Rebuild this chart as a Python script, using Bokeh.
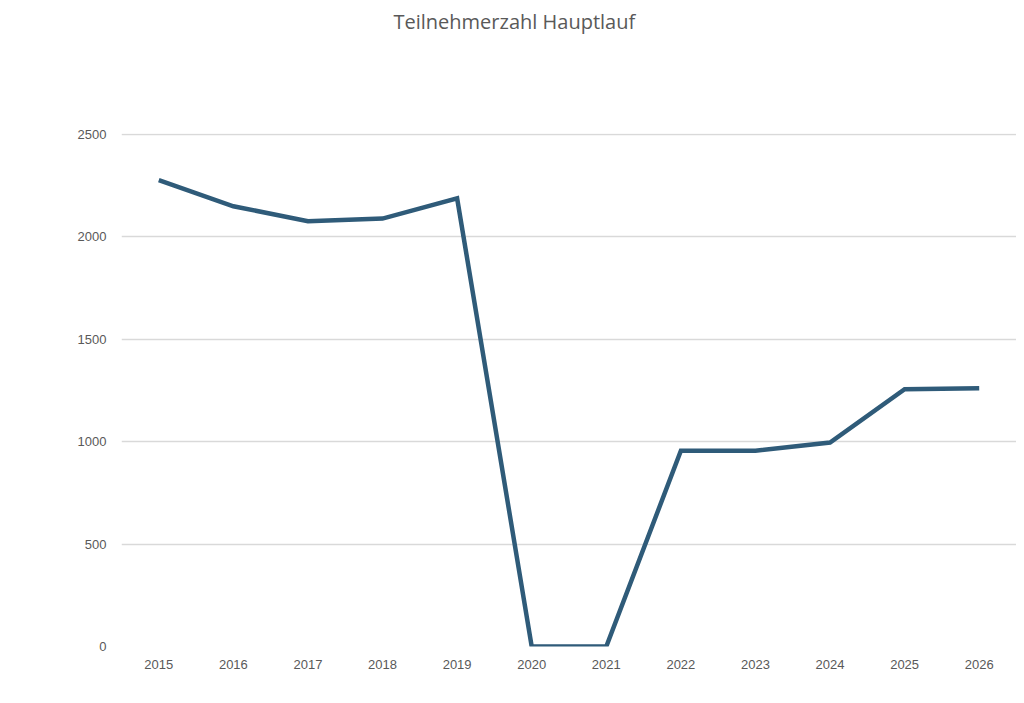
from bokeh.plotting import figure
from bokeh.models import FactorRange, Range1d, FixedTicker, Title
from bokeh.embed import file_html
from bokeh.resources import INLINE

years = ["2015", "2016", "2017", "2018", "2019", "2020",
         "2021", "2022", "2023", "2024", "2025", "2026"]
teilnehmer = [2275, 2148, 2075, 2088, 2187, 0, 0, 955, 955, 995, 1255, 1260]
y_ticks = [0, 500, 1000, 1500, 2000, 2500]
title_text = "Teilnehmerzahl Hauptlauf"

p = figure(width=1016, height=695, output_backend="svg", toolbar_location=None,
           title=None,
           x_range=FactorRange(*years, range_padding=0), y_range=Range1d(0, 2503),
           min_border_left=121, min_border_right=0, min_border_top=133,
           min_border_bottom=49)
# spacer between title and plot area
p.add_layout(Title(text=" ", text_font_size="10px", standoff=84,
                   text_color="white"), "above")
p.add_layout(Title(text=title_text, align="left", vertical_align="top",
                   offset=272, standoff=0,
                   text_font="Open Sans", text_font_size="20px",
                   text_font_style="normal", text_color="#595959"), "above")
p.outline_line_color = None
p.background_fill_color = "white"
p.border_fill_color = "white"

p.line(x=years, y=teilnehmer, line_color="#2F5B79", line_width=4.5,
       line_join="miter")

p.xgrid.grid_line_color = None
p.ygrid.grid_line_color = "#D9D9D9"
p.ygrid.grid_line_width = 1.3
p.yaxis.ticker = FixedTicker(ticks=y_ticks)

for ax in (p.xaxis[0], p.yaxis[0]):
    ax.axis_line_color = None
    ax.major_tick_line_color = None
    ax.minor_tick_line_color = None
    ax.major_label_text_font = "Liberation Sans"
    ax.major_label_text_font_size = "13px"
    ax.major_label_text_color = "#595959"
p.yaxis.major_label_standoff = 9
p.xaxis.major_label_standoff = 7

open("out.html", "w").write(file_html(p, INLINE))
